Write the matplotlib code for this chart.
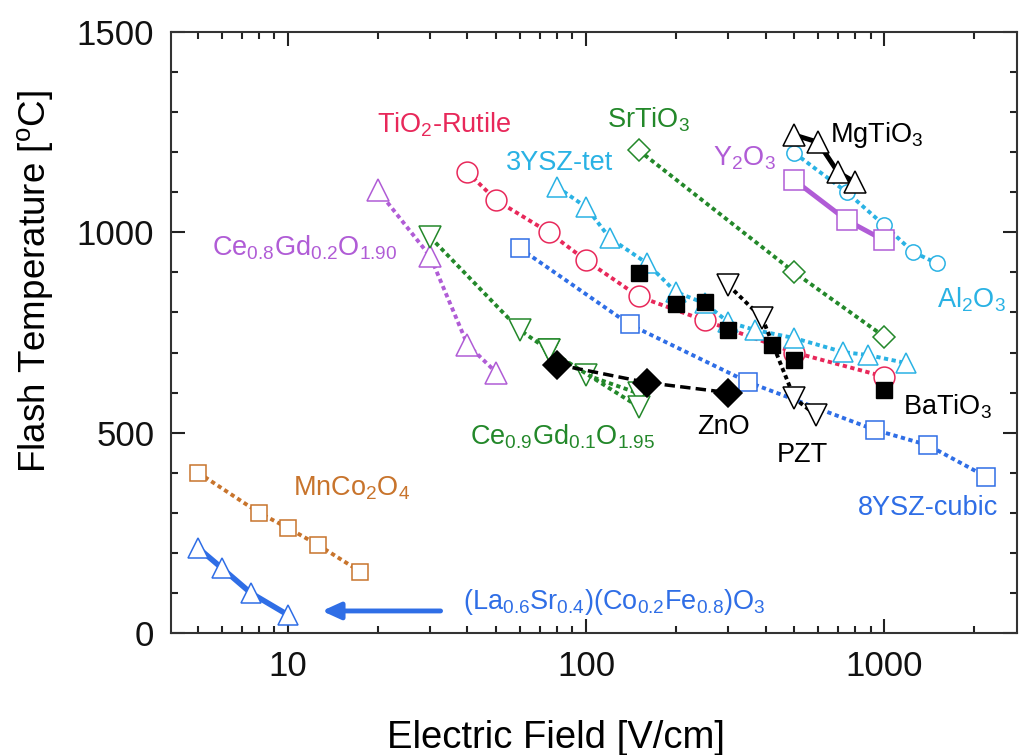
import numpy as np
import matplotlib
matplotlib.use('Agg')
import matplotlib.pyplot as plt
from matplotlib.ticker import FixedLocator, FixedFormatter, MultipleLocator, LogLocator, NullFormatter

plt.rcParams['font.family'] = ['Liberation Sans', 'DejaVu Sans']
plt.rcParams['mathtext.default'] = 'regular'

# flash onset temperature vs. applied field, per material
lscf_x = [5, 6, 7.5, 10]
lscf_y = [212, 162, 100, 45]

mnco_x = [5, 8, 10, 12.6, 17.5]
mnco_y = [400, 300, 262, 220, 153]

ce08_x = [20, 30, 40, 50]
ce08_y = [1105, 940, 720, 650]

ce09_x = [30, 60, 75, 100, 150]
ce09_y = [988, 756, 706, 644, 598]
ce09b_x = [75, 150]
ce09b_y = [706, 565]

zno_x = [80, 160, 300]
zno_y = [670, 625, 600]

tio2_x = [40, 50, 75, 100, 150, 250, 500, 1000]
tio2_y = [1150, 1080, 1000, 930, 840, 780, 700, 640]

batio_x = [150, 200, 250, 300, 420, 500, 1000]
batio_y = [898, 820, 825, 757, 720, 682, 607]

ysz3_x = [80, 100, 120, 160, 200, 250, 300, 370, 500, 730, 880, 1180]
ysz3_y = [1113, 1063, 986, 923, 851, 823, 776, 756, 736, 701, 694, 674]

ysz8_x = [60, 140, 350, 930, 1400, 2200]
ysz8_y = [960, 770, 626, 507, 469, 390]

pzt_x = [300, 390, 500, 590]
pzt_y = [868, 786, 586, 544]

srtio_x = [150, 500, 1000]
srtio_y = [1205, 900, 740]

mgtio_x = [500, 600, 700, 800]
mgtio_y = [1243, 1225, 1150, 1125]

y2o3_x = [500, 750, 1000]
y2o3_y = [1130, 1030, 980]

al2o3_x = [500, 750, 1000, 1250, 1500]
al2o3_y = [1198, 1100, 1018, 951, 923]

PINK = '#e8285a'
CYAN = '#2ab2e4'
GREEN = '#23882a'
PURPLE = '#b05cd6'
BLUE = '#2f6ee6'
ORANGE = '#c8742c'

DOT = (0, (1.1, 0.9))

fig = plt.figure(figsize=(10.19, 7.55), dpi=100)
ax = fig.add_axes([0.1678, 0.1616, 0.8302, 0.796])


def series(x, y, color, marker, ms, ls=DOT, lw=2.8, mfc='white', mec=None, z=3):
    ax.plot(x, y, color=color, ls=ls, lw=lw, marker=marker, ms=ms,
            mfc=mfc, mec=mec if mec else color, mew=1.1, zorder=z)


series(ce08_x, ce08_y, PURPLE, '^', 16)
series(ce09_x, ce09_y, GREEN, 'v', 16)
series(ce09b_x, ce09b_y, GREEN, 'v', 16)
series(tio2_x, tio2_y, PINK, 'o', 15)
series(ysz8_x, ysz8_y, BLUE, 's', 13)
series(srtio_x, srtio_y, GREEN, 'D', 11)
series(ysz3_x, ysz3_y, CYAN, '^', 15)
series(al2o3_x, al2o3_y, CYAN, 'o', 11)
series(y2o3_x, y2o3_y, PURPLE, 's', 14, ls='-', lw=3.5)
series(mnco_x, mnco_y, ORANGE, 's', 12)
series(lscf_x, lscf_y, BLUE, '^', 15, ls='-', lw=4)
ax.plot(batio_x, batio_y, ls='none', marker='s', ms=11, color='black', zorder=4)
series(zno_x, zno_y, 'black', 'D', 14, ls=(0, (3, 1.5)), lw=2.5, mfc='black', z=4)
series(pzt_x, pzt_y, 'black', 'v', 16, z=4)
series(mgtio_x, mgtio_y, 'black', '^', 16, ls='-', lw=3.5, z=4)

# arrow pointing at the LSCF data
ax.annotate('', xy=(13, 55), xytext=(32.5, 55),
            arrowprops=dict(arrowstyle='-|>,head_length=1.1,head_width=0.5',
                            color=BLUE, lw=3.5, shrinkA=0, shrinkB=0))

fs = 19.5
labels = [
    (19.9, 1268, r'TiO$_2$-Rutile', PINK),
    (54, 1173, '3YSZ-tet', CYAN),
    (117.5, 1280, r'SrTiO$_3$', GREEN),
    (267, 1185, r'Y$_2$O$_3$', PURPLE),
    (658, 1243, r'MgTiO$_3$', 'black'),
    (1507, 831, r'Al$_2$O$_3$', CYAN),
    (1158, 564, r'BaTiO$_3$', 'black'),
    (235, 514, 'ZnO', 'black'),
    (437, 444, 'PZT', 'black'),
    (40.8, 489, r'Ce$_{0.9}$Gd$_{0.1}$O$_{1.95}$', GREEN),
    (5.56, 961, r'Ce$_{0.8}$Gd$_{0.2}$O$_{1.90}$', PURPLE),
    (10.4, 362, r'MnCo$_2$O$_4$', ORANGE),
    (38.7, 77, r'(La$_{0.6}$Sr$_{0.4}$)(Co$_{0.2}$Fe$_{0.8}$)O$_3$', BLUE),
    (818, 312, '8YSZ-cubic', BLUE),
]
for x, y, s, c in labels:
    ax.text(x, y, s, color=c, fontsize=fs, ha='left', va='center', zorder=5)

ax.set_xscale('log')
ax.set_xlim(4.05, 2790)
ax.set_ylim(0, 1500)
ax.xaxis.set_major_locator(FixedLocator([10, 100, 1000]))
ax.xaxis.set_major_formatter(FixedFormatter(['10', '100', '1000']))
ax.xaxis.set_minor_locator(LogLocator(base=10, subs=np.arange(2, 10)))
ax.xaxis.set_minor_formatter(NullFormatter())
ax.yaxis.set_major_locator(MultipleLocator(500))
ax.yaxis.set_minor_locator(MultipleLocator(100))

ax.tick_params(which='both', direction='in', top=True, right=True,
               width=1.5, colors='#222222', labelcolor='#111111')
ax.tick_params(which='major', length=10, labelsize=25, pad=12)
ax.tick_params(which='minor', length=5)
for sp in ax.spines.values():
    sp.set_linewidth(1.5)
    sp.set_color('#333333')

ax.set_xlabel('Electric Field [V/cm]', fontsize=27.5)
ax.set_ylabel(r'Flash Temperature [$^o$C]', fontsize=26.5)
ax.xaxis.set_label_coords(0.455, -0.145)
ax.yaxis.set_label_coords(-0.137, 0.584)

fig.savefig('out.png', dpi=100)
